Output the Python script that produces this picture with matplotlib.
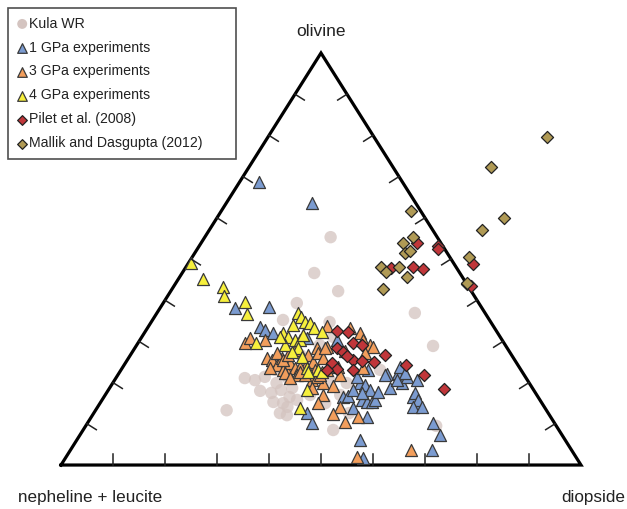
import numpy as np
import matplotlib
matplotlib.use("Agg")
import matplotlib.pyplot as plt
from matplotlib.lines import Line2D
from matplotlib.transforms import IdentityTransform

plt.rcParams['font.family'] = ['Liberation Sans', 'DejaVu Sans']

# compositions in % (olivine, diopside); nepheline + leucite is the rest
kula_ol = [55.3, 46.6, 42.2, 28.9, 36.9, 9.5, 8.5, 19.9, 15.0, 12.6, 39.3, 35.2, 13.3, 21.4, 18.0, 17.5, 18.2, 14.1, 16.5,
           15.0, 12.6, 12.1, 15.3, 19.9, 21.1, 18.7, 15.8, 26.7, 29.1, 20.6, 17.0, 20.6, 23.1, 17.0, 21.1, 34.7, 31.1, 23.1]
kula_di = [24.2, 25.4, 32.2, 57.1, 49.6, 67.4, 48.1, 45.0, 43.3, 49.1, 25.7, 25.1, 25.2, 28.5, 29.3, 31.7, 33.2, 36.5, 35.7,
           35.2, 35.8, 37.4, 33.2, 31.5, 33.1, 35.1, 37.5, 32.7, 35.2, 41.4, 45.2, 27.0, 29.7, 39.4, 24.8, 34.3, 36.8, 49.8]

gpa1_ol = [68.7, 63.6, 38.1, 38.3, 33.5, 32.8, 32.0, 30.8, 12.6, 10.2, 16.5, 16.7, 13.8, 19.9, 19.4, 15.8, 15.3, 15.3,
           18.2, 11.6, 6.1, 1.7, 22.1, 18.7, 22.3, 19.9, 16.5, 15.0, 21.4, 30.3, 21.4, 15.8, 21.8, 23.8, 22.3, 20.6,
           20.6, 17.5, 15.8, 14.1, 14.1, 10.2, 7.3, 3.6, 23.1, 18.2, 17.5, 17.7]
gpa1_di = [3.8, 16.5, 14.4, 20.8, 21.6, 22.8, 24.8, 31.9, 41.0, 43.2, 45.9, 46.8, 49.3, 47.5, 48.8, 50.0, 51.2, 52.2,
           50.3, 53.0, 54.5, 57.3, 51.7, 54.0, 53.6, 55.6, 59.4, 61.0, 55.8, 37.9, 46.2, 52.5, 51.4, 53.3, 55.0, 54.3,
           58.2, 59.4, 60.8, 60.7, 62.4, 66.4, 69.3, 69.5, 47.5, 47.1, 49.2, 52.1]

gpa3_ol = [29.6, 30.8, 30.3, 26.0, 25.5, 24.3, 23.5, 23.1, 26.0, 22.3, 24.8, 23.5, 23.8, 23.1, 28.4, 28.6, 17.0, 15.0,
           19.9, 20.6, 21.4, 27.2, 25.5, 26.7, 27.9, 23.8, 26.7, 25.0, 27.2, 26.0, 23.1, 23.1, 21.8, 21.8, 21.8, 22.3,
           21.1, 22.6, 18.7, 33.7, 33.3, 32.0, 30.3, 29.1, 28.6, 28.4, 27.7, 27.2, 23.5, 23.8, 21.8, 19.2, 14.1, 12.4,
           10.4, 11.6, 1.9, 3.6]
gpa3_di = [20.6, 20.9, 24.0, 26.6, 27.9, 29.4, 28.4, 31.2, 29.5, 32.5, 31.6, 33.2, 35.0, 36.8, 35.0, 36.9, 41.9, 41.9,
           40.4, 38.0, 38.5, 27.9, 30.0, 30.4, 31.0, 34.1, 34.2, 36.0, 35.8, 37.4, 37.3, 39.7, 34.5, 36.0, 38.9, 31.9,
           33.4, 34.7, 39.0, 34.3, 39.0, 41.5, 42.9, 44.8, 45.7, 36.6, 40.8, 44.9, 46.3, 41.4, 42.8, 42.7, 46.7, 46.1,
           49.4, 51.3, 55.9, 65.5]

gpa4_ol = [49.0, 45.1, 43.2, 41.0, 39.6, 36.6, 29.6, 36.9, 35.9, 34.7, 34.5, 33.3, 32.3, 32.0, 31.1, 30.3, 30.3, 29.1,
           28.4, 26.2, 27.4, 23.5, 23.1, 18.2, 13.8, 22.6, 31.1, 22.6, 34.0, 31.6]
gpa4_di = [0.5, 4.7, 9.6, 10.8, 15.6, 17.5, 22.7, 27.1, 28.3, 29.5, 30.6, 32.1, 34.0, 26.7, 28.1, 29.8, 30.8, 28.5,
           31.4, 33.2, 30.7, 35.5, 37.9, 38.2, 39.1, 36.2, 26.5, 38.9, 27.6, 30.7]

pilet_ol = [32.5, 32.3, 29.6, 29.1, 28.4, 27.4, 25.5, 25.2, 25.0, 26.7, 24.3, 21.8, 18.4, 24.8, 23.3, 23.1, 23.1,
            53.9, 47.8, 48.1, 47.6, 53.2, 52.4, 48.8, 43.9, 43.4, 26.5]
pilet_di = [36.8, 39.0, 41.4, 43.3, 38.9, 40.5, 43.5, 45.3, 47.7, 49.0, 54.2, 58.9, 64.5, 39.7, 41.4, 44.7, 39.7,
            41.5, 39.6, 43.7, 45.8, 45.9, 46.3, 54.8, 56.1, 57.1, 41.8]

mallik_ol = [79.6, 72.3, 59.9, 57.0, 61.6, 55.3, 53.9, 51.5, 51.9, 48.1, 46.8, 48.1, 45.6, 42.7, 50.5, 44.2]
mallik_di = [53.7, 46.5, 55.2, 52.5, 36.5, 40.0, 38.8, 40.5, 41.1, 37.5, 39.1, 41.0, 43.7, 40.5, 53.3, 56.0]

tick_fracs = [10, 20, 30, 40, 50, 60, 70, 80, 90]


def to_xy(ol, di):
    ol = np.asarray(ol)
    di = np.asarray(di)
    return di + ol / 2.0, ol


fig = plt.figure(figsize=(6.27, 5.09), dpi=100)
ax = fig.add_axes([0.0973, 0.0864, 0.8293, 0.8095])
ax.set_xlim(0, 100)
ax.set_ylim(0, 100)
ax.axis('off')

# triangle outline
ax.plot([0, 100, 50, 0], [0, 0, 100, 0], color='black', lw=2.3, solid_joinstyle='miter', zorder=2,
        clip_on=False)

# ticks, perpendicular to each edge in pixel space, pointing inward
trans = ax.transData
tick_len = 11
edges = [((0, 0), (100, 0)), ((0, 0), (50, 100)), ((100, 0), (50, 100))]
centre = trans.transform((50, 33))
for (a, b) in edges:
    pa = trans.transform(a)
    pb = trans.transform(b)
    d = (pb - pa) / np.hypot(*(pb - pa))
    n = np.array([-d[1], d[0]])
    mid = (pa + pb) / 2
    if np.dot(centre - mid, n) < 0:
        n = -n
    for t in tick_fracs:
        p0 = pa + (pb - pa) * t / 100.0
        p1 = p0 + n * tick_len
        fig.add_artist(Line2D([p0[0], p1[0]], [p0[1], p1[1]], transform=IdentityTransform(),
                              color='#222222', lw=1.1, zorder=2))

edge_col = '#3a3a3a'
x, y = to_xy(kula_ol, kula_di)
ax.scatter(x, y, s=80, color='#d4c4c0', alpha=0.75, edgecolors='none', zorder=3, clip_on=False, label='Kula WR')
x, y = to_xy(gpa1_ol, gpa1_di)
ax.scatter(x, y, s=75, marker='^', color='#7b9bd0', edgecolors=edge_col, linewidths=0.9, zorder=4, clip_on=False,
           label='1 GPa experiments')
x, y = to_xy(gpa3_ol, gpa3_di)
ax.scatter(x, y, s=75, marker='^', color='#f29e5c', edgecolors=edge_col, linewidths=0.9, zorder=4, clip_on=False,
           label='3 GPa experiments')
x, y = to_xy(gpa4_ol, gpa4_di)
ax.scatter(x, y, s=75, marker='^', color='#f6ef3c', edgecolors=edge_col, linewidths=0.9, zorder=4, clip_on=False,
           label='4 GPa experiments')
x, y = to_xy(pilet_ol, pilet_di)
ax.scatter(x, y, s=38, marker='D', color='#c0363a', edgecolors='#222222', linewidths=0.9, zorder=5, clip_on=False,
           label='Pilet et al. (2008)')
x, y = to_xy(mallik_ol, mallik_di)
ax.scatter(x, y, s=38, marker='D', color='#b09a55', edgecolors='#222222', linewidths=0.9, zorder=5, clip_on=False,
           label='Mallik and Dasgupta (2012)')

# vertex labels
ax.text(50, 105.3, 'olivine', ha='center', va='center', fontsize=12.5, color='#222222')
ax.text(5.6, -7.8, 'nepheline + leucite', ha='center', va='center', fontsize=12.3, color='#222222')
ax.text(102.3, -7.8, 'diopside', ha='center', va='center', fontsize=12.3, color='#222222')

leg = fig.legend(loc='upper left', bbox_to_anchor=(0.0128, 0.686, 0.364, 0.298), mode='expand',
                 fontsize=10.2, frameon=True, fancybox=False, handletextpad=0.1, handlelength=0.8,
                 labelspacing=0.7, borderpad=0.6, borderaxespad=0, labelcolor='#222222', markerscale=0.8)
leg.get_frame().set_edgecolor('#222222')
leg.get_frame().set_linewidth(1.2)
for h in leg.legend_handles:
    h.set_alpha(1)

fig.savefig('out.png', dpi=100)
